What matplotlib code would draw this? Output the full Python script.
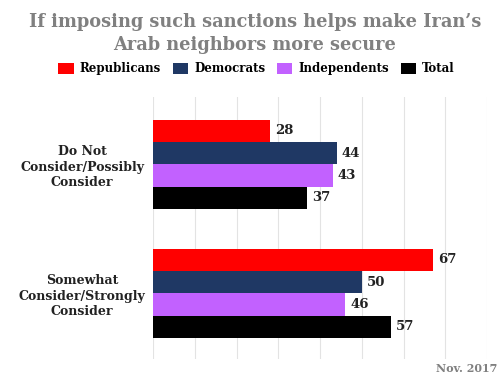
import numpy as np
import matplotlib.pyplot as plt
from matplotlib.patches import Patch

# data
categories = ["Do Not\nConsider/Possibly\nConsider", "Somewhat\nConsider/Strongly\nConsider"]
series_names = ["Republicans", "Democrats", "Independents", "Total"]
republicans = [28, 67]
democrats = [44, 50]
independents = [43, 46]
total = [37, 57]
colors = ["#ff0000", "#1f3864", "#c261ff", "#000000"]

plt.rcParams['font.family'] = ['DejaVu Serif']
plt.rcParams['font.weight'] = 'bold'

fig = plt.figure(figsize=(5, 3.77), dpi=100)
ax = fig.add_axes([0.306, 0.048, 0.668, 0.695])

y = np.arange(len(categories))
h = 0.1725
all_series = [republicans, democrats, independents, total]
for k, (vals, col) in enumerate(zip(all_series, colors)):
    pos = y + (k - 1.5) * h
    ax.barh(pos, vals, height=h, color=col, zorder=2)
    for p, v in zip(pos, vals):
        ax.text(v + 1.2, p, str(v), va='center', ha='left', fontsize=9.5,
                fontweight='bold', color='#222222')

ax.set_xlim(0, 80)
ax.set_ylim(1.508, -0.523)
ax.set_xticks(np.arange(0, 81, 10))
ax.xaxis.grid(True, color='#e3e3e3', linewidth=0.8, zorder=0)
ax.tick_params(axis='x', length=0, labelbottom=False)
ax.tick_params(axis='y', length=0, pad=51)
ax.set_yticks(y)
ax.set_yticklabels(categories, fontsize=9, fontweight='bold', color='#222222',
                   ha='center', linespacing=1.25)
for s in ax.spines.values():
    s.set_visible(False)

fig.text(0.51, 0.91, "If imposing such sanctions helps make Iran\u2019s\nArab neighbors more secure",
         ha='center', va='center', fontsize=12.8, fontweight='bold', color='#808080',
         linespacing=1.35)

handles = [Patch(facecolor=c, label=n) for c, n in zip(colors, series_names)]
fig.legend(handles=handles, loc='center', bbox_to_anchor=(0.513, 0.817), ncol=4,
           frameon=False, handlelength=1.3, handleheight=1.0,
           handletextpad=0.5, columnspacing=1.0, prop={'weight': 'bold', 'size': 8.5})

fig.text(0.994, 0.022, "Nov. 2017", ha='right', va='center', fontsize=8,
         fontweight='bold', color='#808080')

fig.savefig("out.png", dpi=100)
